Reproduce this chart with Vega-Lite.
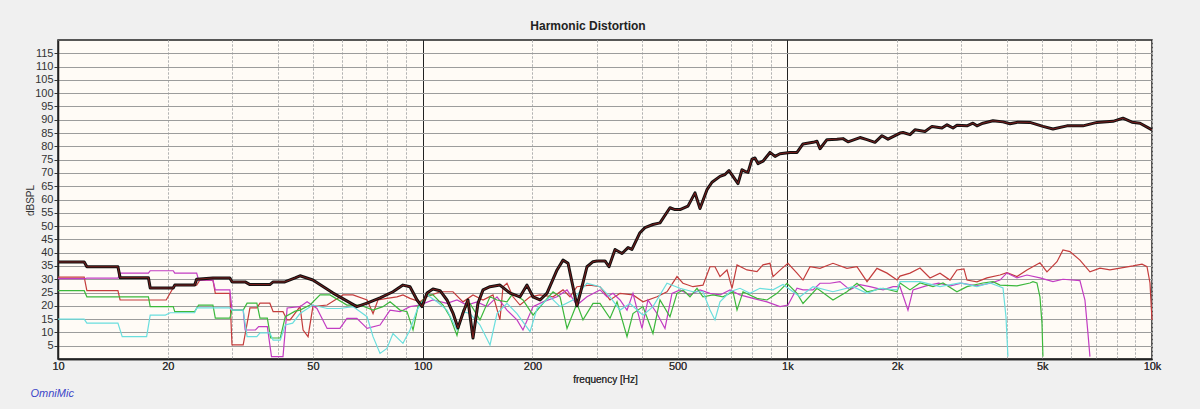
{
  "$schema": "https://vega.github.io/schema/vega-lite/v6.json",
  "description": "Harmonic distortion measurement (OmniMic)",
  "autosize": "none",
  "padding": {"left": 58, "top": 40, "right": 48, "bottom": 50},
  "width": 1094,
  "height": 319,
  "background": "#f0f0f0",
  "view": {"fill": "#fffbf6", "stroke": "#222222", "strokeWidth": 1.5},
  "title": {
    "text": "Harmonic Distortion",
    "font": "Liberation Sans",
    "fontSize": 12,
    "fontWeight": "bold",
    "color": "#222222",
    "anchor": "middle",
    "frame": "group",
    "dx": -17,
    "offset": 7
  },
  "config": {
    "axis": {"labelFont": "Liberation Sans", "titleFont": "Liberation Sans", "labelColor": "#333333", "titleColor": "#333333"}
  },
  "data": {
    "values": [
      {"s": "Fundamental", "f": 10, "db": 36.5}, {"s": "Fundamental", "f": 11.8, "db": 36.5}, {"s": "Fundamental", "f": 12.0, "db": 34.7}, {"s": "Fundamental", "f": 14.6, "db": 34.7},
      {"s": "Fundamental", "f": 14.8, "db": 30.6}, {"s": "Fundamental", "f": 17.7, "db": 30.6}, {"s": "Fundamental", "f": 17.9, "db": 26.7}, {"s": "Fundamental", "f": 20.7, "db": 26.7},
      {"s": "Fundamental", "f": 20.9, "db": 27.8}, {"s": "Fundamental", "f": 23.7, "db": 27.8}, {"s": "Fundamental", "f": 24.0, "db": 30}, {"s": "Fundamental", "f": 26.6, "db": 30.5},
      {"s": "Fundamental", "f": 29.6, "db": 30.5}, {"s": "Fundamental", "f": 30.0, "db": 29}, {"s": "Fundamental", "f": 32.6, "db": 29}, {"s": "Fundamental", "f": 33.6, "db": 28},
      {"s": "Fundamental", "f": 38.1, "db": 28}, {"s": "Fundamental", "f": 38.9, "db": 29}, {"s": "Fundamental", "f": 41.9, "db": 29}, {"s": "Fundamental", "f": 44.7, "db": 30.5},
      {"s": "Fundamental", "f": 46.1, "db": 31.3}, {"s": "Fundamental", "f": 50, "db": 29.7}, {"s": "Fundamental", "f": 56.8, "db": 24.8}, {"s": "Fundamental", "f": 66, "db": 19.7},
      {"s": "Fundamental", "f": 70.4, "db": 21}, {"s": "Fundamental", "f": 76.4, "db": 23}, {"s": "Fundamental", "f": 82.9, "db": 25.3}, {"s": "Fundamental", "f": 88.3, "db": 27.8},
      {"s": "Fundamental", "f": 92.3, "db": 27.2}, {"s": "Fundamental", "f": 96.5, "db": 22.2}, {"s": "Fundamental", "f": 99.6, "db": 19.7}, {"s": "Fundamental", "f": 102.8, "db": 24.8},
      {"s": "Fundamental", "f": 106.7, "db": 26.3}, {"s": "Fundamental", "f": 111.6, "db": 25.7}, {"s": "Fundamental", "f": 116.6, "db": 22.2}, {"s": "Fundamental", "f": 121.1, "db": 17.3},
      {"s": "Fundamental", "f": 125, "db": 11.7}, {"s": "Fundamental", "f": 129, "db": 17.3}, {"s": "Fundamental", "f": 133.1, "db": 22.2}, {"s": "Fundamental", "f": 137.4, "db": 7.9},
      {"s": "Fundamental", "f": 141.8, "db": 21}, {"s": "Fundamental", "f": 146.4, "db": 26}, {"s": "Fundamental", "f": 153, "db": 27.2}, {"s": "Fundamental", "f": 162.9, "db": 27.8},
      {"s": "Fundamental", "f": 173.6, "db": 24.8}, {"s": "Fundamental", "f": 184.9, "db": 23.4}, {"s": "Fundamental", "f": 193.2, "db": 27.8}, {"s": "Fundamental", "f": 200.7, "db": 23.4},
      {"s": "Fundamental", "f": 209.8, "db": 22.2}, {"s": "Fundamental", "f": 219.3, "db": 24.8}, {"s": "Fundamental", "f": 233.6, "db": 33.5}, {"s": "Fundamental", "f": 242.6, "db": 37.2},
      {"s": "Fundamental", "f": 250.4, "db": 36}, {"s": "Fundamental", "f": 258.3, "db": 27.2}, {"s": "Fundamental", "f": 264.9, "db": 20}, {"s": "Fundamental", "f": 273.5, "db": 27.2},
      {"s": "Fundamental", "f": 282.2, "db": 34.7}, {"s": "Fundamental", "f": 293.2, "db": 36.6}, {"s": "Fundamental", "f": 300.6, "db": 36.9}, {"s": "Fundamental", "f": 316.2, "db": 36.9},
      {"s": "Fundamental", "f": 324.3, "db": 34.7}, {"s": "Fundamental", "f": 336.9, "db": 41.2}, {"s": "Fundamental", "f": 352.1, "db": 39.7}, {"s": "Fundamental", "f": 365.7, "db": 41.9},
      {"s": "Fundamental", "f": 374.9, "db": 41.2}, {"s": "Fundamental", "f": 394.3, "db": 47.5}, {"s": "Fundamental", "f": 407, "db": 49.4}, {"s": "Fundamental", "f": 428.1, "db": 50.6},
      {"s": "Fundamental", "f": 447.5, "db": 51.2}, {"s": "Fundamental", "f": 476.6, "db": 56.9}, {"s": "Fundamental", "f": 491.9, "db": 56.2}, {"s": "Fundamental", "f": 507.7, "db": 56.2},
      {"s": "Fundamental", "f": 534, "db": 57.5}, {"s": "Fundamental", "f": 558.2, "db": 62.5}, {"s": "Fundamental", "f": 576.1, "db": 56.6}, {"s": "Fundamental", "f": 602.1, "db": 63.7},
      {"s": "Fundamental", "f": 621.4, "db": 66.5}, {"s": "Fundamental", "f": 653.6, "db": 68.7}, {"s": "Fundamental", "f": 674.6, "db": 69.4}, {"s": "Fundamental", "f": 691.9, "db": 70.9},
      {"s": "Fundamental", "f": 732.4, "db": 66}, {"s": "Fundamental", "f": 751.1, "db": 71.2}, {"s": "Fundamental", "f": 765.4, "db": 70.6}, {"s": "Fundamental", "f": 780.1, "db": 70.2},
      {"s": "Fundamental", "f": 800, "db": 75.2}, {"s": "Fundamental", "f": 815.2, "db": 75.6}, {"s": "Fundamental", "f": 830.8, "db": 73.5}, {"s": "Fundamental", "f": 857.5, "db": 74.4},
      {"s": "Fundamental", "f": 896.3, "db": 77.7}, {"s": "Fundamental", "f": 925.2, "db": 76.2}, {"s": "Fundamental", "f": 954.8, "db": 77.2}, {"s": "Fundamental", "f": 1017, "db": 77.7},
      {"s": "Fundamental", "f": 1063, "db": 77.7}, {"s": "Fundamental", "f": 1104, "db": 80.9}, {"s": "Fundamental", "f": 1176, "db": 81.5}, {"s": "Fundamental", "f": 1206, "db": 81.9},
      {"s": "Fundamental", "f": 1229, "db": 79.1}, {"s": "Fundamental", "f": 1284, "db": 82.5}, {"s": "Fundamental", "f": 1368, "db": 82.7}, {"s": "Fundamental", "f": 1421, "db": 82.9},
      {"s": "Fundamental", "f": 1467, "db": 81.7}, {"s": "Fundamental", "f": 1582, "db": 83.3}, {"s": "Fundamental", "f": 1654, "db": 82.5}, {"s": "Fundamental", "f": 1739, "db": 81.5},
      {"s": "Fundamental", "f": 1818, "db": 84}, {"s": "Fundamental", "f": 1888, "db": 82.7}, {"s": "Fundamental", "f": 2037, "db": 85}, {"s": "Fundamental", "f": 2076, "db": 85.2},
      {"s": "Fundamental", "f": 2170, "db": 84.4}, {"s": "Fundamental", "f": 2239, "db": 86.2}, {"s": "Fundamental", "f": 2385, "db": 85.6}, {"s": "Fundamental", "f": 2493, "db": 87.5},
      {"s": "Fundamental", "f": 2655, "db": 86.9}, {"s": "Fundamental", "f": 2741, "db": 88.1}, {"s": "Fundamental", "f": 2847, "db": 86.9}, {"s": "Fundamental", "f": 2918, "db": 87.9},
      {"s": "Fundamental", "f": 3109, "db": 87.7}, {"s": "Fundamental", "f": 3228, "db": 88.7}, {"s": "Fundamental", "f": 3311, "db": 87.7}, {"s": "Fundamental", "f": 3439, "db": 88.7},
      {"s": "Fundamental", "f": 3664, "db": 89.6}, {"s": "Fundamental", "f": 3903, "db": 89.2}, {"s": "Fundamental", "f": 4079, "db": 88.5}, {"s": "Fundamental", "f": 4290, "db": 89.1},
      {"s": "Fundamental", "f": 4627, "db": 89}, {"s": "Fundamental", "f": 5023, "db": 87.5}, {"s": "Fundamental", "f": 5351, "db": 86.5}, {"s": "Fundamental", "f": 5846, "db": 87.7},
      {"s": "Fundamental", "f": 6465, "db": 87.7}, {"s": "Fundamental", "f": 7065, "db": 89}, {"s": "Fundamental", "f": 7816, "db": 89.4}, {"s": "Fundamental", "f": 8325, "db": 90.6},
      {"s": "Fundamental", "f": 8812, "db": 89.1}, {"s": "Fundamental", "f": 9271, "db": 88.7}, {"s": "Fundamental", "f": 10000, "db": 86.2},

      {"s": "2nd", "f": 10, "db": 30.8}, {"s": "2nd", "f": 11.8, "db": 30.8}, {"s": "2nd", "f": 12.0, "db": 25.7}, {"s": "2nd", "f": 14.6, "db": 25.7},
      {"s": "2nd", "f": 14.8, "db": 22.2}, {"s": "2nd", "f": 19.8, "db": 22.2}, {"s": "2nd", "f": 20.9, "db": 27.8}, {"s": "2nd", "f": 24, "db": 27.8},
      {"s": "2nd", "f": 24.5, "db": 29.7}, {"s": "2nd", "f": 26.6, "db": 29.7}, {"s": "2nd", "f": 27, "db": 24.7}, {"s": "2nd", "f": 29.6, "db": 24.7},
      {"s": "2nd", "f": 30, "db": 5.3}, {"s": "2nd", "f": 32.2, "db": 5.3}, {"s": "2nd", "f": 33.6, "db": 19.2}, {"s": "2nd", "f": 35.1, "db": 19.2},
      {"s": "2nd", "f": 35.8, "db": 21}, {"s": "2nd", "f": 38.1, "db": 21}, {"s": "2nd", "f": 38.9, "db": 17.8}, {"s": "2nd", "f": 41.4, "db": 17.8},
      {"s": "2nd", "f": 42.5, "db": 14.7}, {"s": "2nd", "f": 43.3, "db": 14.7}, {"s": "2nd", "f": 46.1, "db": 19.7}, {"s": "2nd", "f": 47, "db": 10.9},
      {"s": "2nd", "f": 48.5, "db": 8.4}, {"s": "2nd", "f": 50, "db": 19.7}, {"s": "2nd", "f": 54.7, "db": 20.3}, {"s": "2nd", "f": 60.5, "db": 24.1},
      {"s": "2nd", "f": 64.4, "db": 24.1}, {"s": "2nd", "f": 70.4, "db": 22.2}, {"s": "2nd", "f": 73.1, "db": 17.1}, {"s": "2nd", "f": 75.4, "db": 22.2},
      {"s": "2nd", "f": 79.8, "db": 22.8}, {"s": "2nd", "f": 85, "db": 23.4}, {"s": "2nd", "f": 88.3, "db": 24.1}, {"s": "2nd", "f": 92.3, "db": 22.8},
      {"s": "2nd", "f": 98.3, "db": 21.5}, {"s": "2nd", "f": 102.8, "db": 23.4}, {"s": "2nd", "f": 111.6, "db": 25.3}, {"s": "2nd", "f": 121.1, "db": 25.3},
      {"s": "2nd", "f": 129, "db": 21.5}, {"s": "2nd", "f": 137.4, "db": 24.1}, {"s": "2nd", "f": 146.4, "db": 22.2}, {"s": "2nd", "f": 155.9, "db": 24.1},
      {"s": "2nd", "f": 162.9, "db": 14.7}, {"s": "2nd", "f": 166.1, "db": 27.2}, {"s": "2nd", "f": 170.3, "db": 28.5}, {"s": "2nd", "f": 176.9, "db": 23.4},
      {"s": "2nd", "f": 184.9, "db": 20.3}, {"s": "2nd", "f": 197, "db": 23.4}, {"s": "2nd", "f": 209.8, "db": 24.1}, {"s": "2nd", "f": 227.8, "db": 23.4},
      {"s": "2nd", "f": 242.6, "db": 26}, {"s": "2nd", "f": 253.5, "db": 23.4}, {"s": "2nd", "f": 264.9, "db": 27.2}, {"s": "2nd", "f": 287.6, "db": 27.8},
      {"s": "2nd", "f": 306.4, "db": 27.2}, {"s": "2nd", "f": 326.4, "db": 22.2}, {"s": "2nd", "f": 347.7, "db": 24.7}, {"s": "2nd", "f": 377.3, "db": 24.1},
      {"s": "2nd", "f": 401.9, "db": 21.5}, {"s": "2nd", "f": 439.1, "db": 23.4}, {"s": "2nd", "f": 467.7, "db": 25.3}, {"s": "2nd", "f": 498.2, "db": 31},
      {"s": "2nd", "f": 517.4, "db": 28.5}, {"s": "2nd", "f": 551.1, "db": 27.2}, {"s": "2nd", "f": 587.1, "db": 27.8}, {"s": "2nd", "f": 613.6, "db": 34.7},
      {"s": "2nd", "f": 633.3, "db": 34.7}, {"s": "2nd", "f": 653.6, "db": 31}, {"s": "2nd", "f": 683.2, "db": 33.5}, {"s": "2nd", "f": 705.2, "db": 26.6},
      {"s": "2nd", "f": 727.8, "db": 35.4}, {"s": "2nd", "f": 775.2, "db": 33.5}, {"s": "2nd", "f": 825.6, "db": 32.9}, {"s": "2nd", "f": 857.5, "db": 35.4},
      {"s": "2nd", "f": 896.3, "db": 36}, {"s": "2nd", "f": 913.5, "db": 31}, {"s": "2nd", "f": 966.9, "db": 34.1}, {"s": "2nd", "f": 1004, "db": 36},
      {"s": "2nd", "f": 1063, "db": 32.3}, {"s": "2nd", "f": 1104, "db": 29.7}, {"s": "2nd", "f": 1154, "db": 34.7}, {"s": "2nd", "f": 1229, "db": 34.1},
      {"s": "2nd", "f": 1334, "db": 36}, {"s": "2nd", "f": 1457, "db": 34.1}, {"s": "2nd", "f": 1552, "db": 34.7}, {"s": "2nd", "f": 1654, "db": 29.1},
      {"s": "2nd", "f": 1761, "db": 34.1}, {"s": "2nd", "f": 1877, "db": 32.3}, {"s": "2nd", "f": 1999, "db": 29.7}, {"s": "2nd", "f": 2037, "db": 31.2},
      {"s": "2nd", "f": 2170, "db": 32.3}, {"s": "2nd", "f": 2311, "db": 34.2}, {"s": "2nd", "f": 2462, "db": 30.5}, {"s": "2nd", "f": 2622, "db": 32.3},
      {"s": "2nd", "f": 2793, "db": 29.7}, {"s": "2nd", "f": 2918, "db": 33.5}, {"s": "2nd", "f": 3050, "db": 33.9}, {"s": "2nd", "f": 3109, "db": 29.7},
      {"s": "2nd", "f": 3311, "db": 29}, {"s": "2nd", "f": 3527, "db": 30.5}, {"s": "2nd", "f": 3830, "db": 31.6}, {"s": "2nd", "f": 4002, "db": 32.5},
      {"s": "2nd", "f": 4263, "db": 31}, {"s": "2nd", "f": 4540, "db": 33.5}, {"s": "2nd", "f": 4929, "db": 36.2}, {"s": "2nd", "f": 5152, "db": 32.8},
      {"s": "2nd", "f": 5488, "db": 36.6}, {"s": "2nd", "f": 5700, "db": 41}, {"s": "2nd", "f": 5957, "db": 40.4}, {"s": "2nd", "f": 6344, "db": 37.2},
      {"s": "2nd", "f": 6758, "db": 32.8}, {"s": "2nd", "f": 7200, "db": 34.2}, {"s": "2nd", "f": 7667, "db": 33.5}, {"s": "2nd", "f": 8169, "db": 34.2},
      {"s": "2nd", "f": 8869, "db": 35}, {"s": "2nd", "f": 9389, "db": 35.7}, {"s": "2nd", "f": 9690, "db": 34.7}, {"s": "2nd", "f": 9874, "db": 28.6},
      {"s": "2nd", "f": 10000, "db": 14.7},

      {"s": "3rd", "f": 10, "db": 30.2}, {"s": "3rd", "f": 11.8, "db": 30.2}, {"s": "3rd", "f": 12, "db": 30.4}, {"s": "3rd", "f": 14.6, "db": 30.4},
      {"s": "3rd", "f": 14.8, "db": 32.3}, {"s": "3rd", "f": 17.7, "db": 32.3}, {"s": "3rd", "f": 17.9, "db": 33.2}, {"s": "3rd", "f": 20.7, "db": 33.2},
      {"s": "3rd", "f": 20.9, "db": 32.3}, {"s": "3rd", "f": 24, "db": 32.3}, {"s": "3rd", "f": 24.3, "db": 29.7}, {"s": "3rd", "f": 26.6, "db": 29.7},
      {"s": "3rd", "f": 27, "db": 26}, {"s": "3rd", "f": 29.6, "db": 26}, {"s": "3rd", "f": 30, "db": 18.4}, {"s": "3rd", "f": 32.2, "db": 18.4},
      {"s": "3rd", "f": 32.6, "db": 10.9}, {"s": "3rd", "f": 34.8, "db": 10.9}, {"s": "3rd", "f": 35.5, "db": 12.2}, {"s": "3rd", "f": 37.5, "db": 12.2},
      {"s": "3rd", "f": 38.5, "db": 0.9}, {"s": "3rd", "f": 41.4, "db": 0.9}, {"s": "3rd", "f": 42.5, "db": 19.2}, {"s": "3rd", "f": 46.1, "db": 19.7},
      {"s": "3rd", "f": 48.2, "db": 21.5}, {"s": "3rd", "f": 51.3, "db": 19}, {"s": "3rd", "f": 54.7, "db": 11.5}, {"s": "3rd", "f": 59.3, "db": 11.5},
      {"s": "3rd", "f": 62, "db": 15.3}, {"s": "3rd", "f": 66, "db": 15.3}, {"s": "3rd", "f": 70.4, "db": 11.5}, {"s": "3rd", "f": 76.4, "db": 12.8},
      {"s": "3rd", "f": 81.4, "db": 18.4}, {"s": "3rd", "f": 86.7, "db": 17.8}, {"s": "3rd", "f": 92.3, "db": 19.7}, {"s": "3rd", "f": 98.3, "db": 20.3},
      {"s": "3rd", "f": 106.7, "db": 22.2}, {"s": "3rd", "f": 116.6, "db": 20.9}, {"s": "3rd", "f": 124.2, "db": 22.2}, {"s": "3rd", "f": 132.3, "db": 20.3},
      {"s": "3rd", "f": 140.9, "db": 21.5}, {"s": "3rd", "f": 150.1, "db": 19.7}, {"s": "3rd", "f": 159.9, "db": 23.4}, {"s": "3rd", "f": 170.3, "db": 18.4},
      {"s": "3rd", "f": 181.4, "db": 14.7}, {"s": "3rd", "f": 188.4, "db": 10.9}, {"s": "3rd", "f": 200.7, "db": 19.7}, {"s": "3rd", "f": 213.8, "db": 21.5},
      {"s": "3rd", "f": 233.6, "db": 23.4}, {"s": "3rd", "f": 248.8, "db": 26}, {"s": "3rd", "f": 264.9, "db": 20.3}, {"s": "3rd", "f": 282.2, "db": 23.4},
      {"s": "3rd", "f": 306.4, "db": 26}, {"s": "3rd", "f": 320.2, "db": 23.4}, {"s": "3rd", "f": 332.6, "db": 24.7}, {"s": "3rd", "f": 347.7, "db": 22.2},
      {"s": "3rd", "f": 363.4, "db": 18.4}, {"s": "3rd", "f": 377.3, "db": 24.7}, {"s": "3rd", "f": 399.4, "db": 11.5}, {"s": "3rd", "f": 414.8, "db": 22.2},
      {"s": "3rd", "f": 439.1, "db": 17.1}, {"s": "3rd", "f": 461.8, "db": 11.5}, {"s": "3rd", "f": 482.7, "db": 24.7}, {"s": "3rd", "f": 507.7, "db": 26},
      {"s": "3rd", "f": 540.8, "db": 24.1}, {"s": "3rd", "f": 576.1, "db": 26}, {"s": "3rd", "f": 613.6, "db": 24.7}, {"s": "3rd", "f": 653.6, "db": 24.1},
      {"s": "3rd", "f": 696.3, "db": 26}, {"s": "3rd", "f": 741.7, "db": 24.1}, {"s": "3rd", "f": 805, "db": 22.8}, {"s": "3rd", "f": 879.5, "db": 21.5},
      {"s": "3rd", "f": 954.8, "db": 19.7}, {"s": "3rd", "f": 1004, "db": 20.3}, {"s": "3rd", "f": 1063, "db": 26.6}, {"s": "3rd", "f": 1104, "db": 26},
      {"s": "3rd", "f": 1176, "db": 26}, {"s": "3rd", "f": 1229, "db": 28.5}, {"s": "3rd", "f": 1309, "db": 28.5}, {"s": "3rd", "f": 1394, "db": 29.1},
      {"s": "3rd", "f": 1485, "db": 26}, {"s": "3rd", "f": 1582, "db": 28}, {"s": "3rd", "f": 1685, "db": 27.2}, {"s": "3rd", "f": 1830, "db": 26},
      {"s": "3rd", "f": 1949, "db": 27.2}, {"s": "3rd", "f": 2037, "db": 27.2}, {"s": "3rd", "f": 2142, "db": 18.4}, {"s": "3rd", "f": 2211, "db": 26},
      {"s": "3rd", "f": 2400, "db": 27.5}, {"s": "3rd", "f": 2600, "db": 28.5}, {"s": "3rd", "f": 2800, "db": 27.5}, {"s": "3rd", "f": 3000, "db": 28.5},
      {"s": "3rd", "f": 3300, "db": 27.5}, {"s": "3rd", "f": 3600, "db": 28.5}, {"s": "3rd", "f": 3830, "db": 29.7}, {"s": "3rd", "f": 4002, "db": 32.4},
      {"s": "3rd", "f": 4263, "db": 30.5}, {"s": "3rd", "f": 4540, "db": 31.6}, {"s": "3rd", "f": 4929, "db": 30.5}, {"s": "3rd", "f": 5351, "db": 29.1},
      {"s": "3rd", "f": 5700, "db": 30}, {"s": "3rd", "f": 6344, "db": 29.5}, {"s": "3rd", "f": 6548, "db": 22.2}, {"s": "3rd", "f": 6673, "db": 9.8},
      {"s": "3rd", "f": 6758, "db": 0.9},

      {"s": "4th", "f": 10, "db": 25.7}, {"s": "4th", "f": 11.8, "db": 25.7}, {"s": "4th", "f": 12, "db": 23.4}, {"s": "4th", "f": 17.7, "db": 23.4},
      {"s": "4th", "f": 17.9, "db": 19.7}, {"s": "4th", "f": 20.7, "db": 19.7}, {"s": "4th", "f": 20.9, "db": 17.8}, {"s": "4th", "f": 23.7, "db": 17.8},
      {"s": "4th", "f": 24.3, "db": 20.3}, {"s": "4th", "f": 26.6, "db": 20.3}, {"s": "4th", "f": 27, "db": 15.4}, {"s": "4th", "f": 29.6, "db": 15.4},
      {"s": "4th", "f": 30, "db": 18.4}, {"s": "4th", "f": 32.2, "db": 18.4}, {"s": "4th", "f": 33, "db": 21}, {"s": "4th", "f": 35.1, "db": 21},
      {"s": "4th", "f": 35.8, "db": 15.4}, {"s": "4th", "f": 37.5, "db": 15.4}, {"s": "4th", "f": 38.3, "db": 7.9}, {"s": "4th", "f": 40.7, "db": 7.9},
      {"s": "4th", "f": 42, "db": 15.9}, {"s": "4th", "f": 44.7, "db": 18}, {"s": "4th", "f": 46.1, "db": 18.4}, {"s": "4th", "f": 49.1, "db": 20.3},
      {"s": "4th", "f": 52.3, "db": 24.1}, {"s": "4th", "f": 55.7, "db": 24.1}, {"s": "4th", "f": 62, "db": 20.3}, {"s": "4th", "f": 67.3, "db": 20.3},
      {"s": "4th", "f": 73.1, "db": 18.4}, {"s": "4th", "f": 77.8, "db": 19.7}, {"s": "4th", "f": 81.4, "db": 21.5}, {"s": "4th", "f": 86.7, "db": 18.4},
      {"s": "4th", "f": 90.6, "db": 17.8}, {"s": "4th", "f": 94.1, "db": 10.9}, {"s": "4th", "f": 97.1, "db": 19.7}, {"s": "4th", "f": 102.8, "db": 24.1},
      {"s": "4th", "f": 106.7, "db": 24.1}, {"s": "4th", "f": 113.7, "db": 20.3}, {"s": "4th", "f": 118.8, "db": 15.9}, {"s": "4th", "f": 124.2, "db": 8.9},
      {"s": "4th", "f": 129, "db": 18.4}, {"s": "4th", "f": 134.8, "db": 20.9}, {"s": "4th", "f": 143.6, "db": 14.7}, {"s": "4th", "f": 153, "db": 23.4},
      {"s": "4th", "f": 159.9, "db": 22.2}, {"s": "4th", "f": 170.3, "db": 21.5}, {"s": "4th", "f": 176.9, "db": 24.7}, {"s": "4th", "f": 188.4, "db": 22.2},
      {"s": "4th", "f": 200.7, "db": 16.5}, {"s": "4th", "f": 213.8, "db": 20.9}, {"s": "4th", "f": 227.8, "db": 25.3}, {"s": "4th", "f": 238.1, "db": 23.4},
      {"s": "4th", "f": 248.8, "db": 11.5}, {"s": "4th", "f": 264.9, "db": 20.9}, {"s": "4th", "f": 275.2, "db": 14.7}, {"s": "4th", "f": 293.2, "db": 20.9},
      {"s": "4th", "f": 306.4, "db": 20.9}, {"s": "4th", "f": 326.4, "db": 15.3}, {"s": "4th", "f": 341.2, "db": 21.5}, {"s": "4th", "f": 363.4, "db": 8.4},
      {"s": "4th", "f": 377.3, "db": 17.1}, {"s": "4th", "f": 401.9, "db": 19.7}, {"s": "4th", "f": 428.1, "db": 9.6}, {"s": "4th", "f": 447.5, "db": 22.2},
      {"s": "4th", "f": 476.6, "db": 15.9}, {"s": "4th", "f": 498.2, "db": 24.7}, {"s": "4th", "f": 517.4, "db": 26}, {"s": "4th", "f": 540.8, "db": 23.4},
      {"s": "4th", "f": 565.3, "db": 26.6}, {"s": "4th", "f": 587.1, "db": 23.4}, {"s": "4th", "f": 625.4, "db": 24.1}, {"s": "4th", "f": 666.1, "db": 23.4},
      {"s": "4th", "f": 709.6, "db": 25.3}, {"s": "4th", "f": 727.8, "db": 18.4}, {"s": "4th", "f": 755.8, "db": 25.3}, {"s": "4th", "f": 825.6, "db": 22.8},
      {"s": "4th", "f": 879.5, "db": 22.2}, {"s": "4th", "f": 937, "db": 24.7}, {"s": "4th", "f": 998, "db": 28.5}, {"s": "4th", "f": 1063, "db": 24.7},
      {"s": "4th", "f": 1104, "db": 20.9}, {"s": "4th", "f": 1206, "db": 26.6}, {"s": "4th", "f": 1334, "db": 22.2}, {"s": "4th", "f": 1457, "db": 25.3},
      {"s": "4th", "f": 1552, "db": 28.5}, {"s": "4th", "f": 1654, "db": 25.3}, {"s": "4th", "f": 1830, "db": 26.6}, {"s": "4th", "f": 1999, "db": 25.3},
      {"s": "4th", "f": 2037, "db": 28.6}, {"s": "4th", "f": 2170, "db": 26}, {"s": "4th", "f": 2311, "db": 28.6}, {"s": "4th", "f": 2508, "db": 27.2},
      {"s": "4th", "f": 2672, "db": 28.6}, {"s": "4th", "f": 2918, "db": 25.3}, {"s": "4th", "f": 3109, "db": 27.2}, {"s": "4th", "f": 3439, "db": 28.6},
      {"s": "4th", "f": 3664, "db": 29.1}, {"s": "4th", "f": 3830, "db": 27.8}, {"s": "4th", "f": 4263, "db": 27.5}, {"s": "4th", "f": 4627, "db": 28.6},
      {"s": "4th", "f": 4716, "db": 29.1}, {"s": "4th", "f": 4836, "db": 28.6}, {"s": "4th", "f": 4929, "db": 23.4}, {"s": "4th", "f": 4992, "db": 13.5},
      {"s": "4th", "f": 5023, "db": 0.9},

      {"s": "5th", "f": 10, "db": 15}, {"s": "5th", "f": 11.8, "db": 15}, {"s": "5th", "f": 12, "db": 13.5}, {"s": "5th", "f": 14.6, "db": 13.5},
      {"s": "5th", "f": 15, "db": 8.4}, {"s": "5th", "f": 17.5, "db": 8.4}, {"s": "5th", "f": 17.9, "db": 16.5}, {"s": "5th", "f": 19.7, "db": 16.5},
      {"s": "5th", "f": 20.3, "db": 17.4}, {"s": "5th", "f": 23.7, "db": 17.4}, {"s": "5th", "f": 24, "db": 19.2}, {"s": "5th", "f": 29.6, "db": 19.2},
      {"s": "5th", "f": 30, "db": 18.4}, {"s": "5th", "f": 32.2, "db": 18.4}, {"s": "5th", "f": 33, "db": 8.4}, {"s": "5th", "f": 35.1, "db": 8.4},
      {"s": "5th", "f": 35.8, "db": 9.8}, {"s": "5th", "f": 38.1, "db": 9.8}, {"s": "5th", "f": 38.9, "db": 7.1}, {"s": "5th", "f": 40.7, "db": 7.1},
      {"s": "5th", "f": 42, "db": 12.8}, {"s": "5th", "f": 44, "db": 13.5}, {"s": "5th", "f": 46.1, "db": 17.1}, {"s": "5th", "f": 50, "db": 20.3},
      {"s": "5th", "f": 54.7, "db": 19}, {"s": "5th", "f": 59.3, "db": 19}, {"s": "5th", "f": 64.4, "db": 19.7}, {"s": "5th", "f": 70.4, "db": 15.9},
      {"s": "5th", "f": 73.1, "db": 8.4}, {"s": "5th", "f": 76.4, "db": 2.1}, {"s": "5th", "f": 79.8, "db": 4}, {"s": "5th", "f": 82.9, "db": 9.6},
      {"s": "5th", "f": 88.3, "db": 5.9}, {"s": "5th", "f": 92.3, "db": 10.9}, {"s": "5th", "f": 96.5, "db": 18.4}, {"s": "5th", "f": 102.8, "db": 24.1},
      {"s": "5th", "f": 109.5, "db": 21.5}, {"s": "5th", "f": 116.6, "db": 18.4}, {"s": "5th", "f": 124.2, "db": 10.9}, {"s": "5th", "f": 129, "db": 17.8},
      {"s": "5th", "f": 134.8, "db": 17.1}, {"s": "5th", "f": 143.6, "db": 12.8}, {"s": "5th", "f": 153, "db": 5.3}, {"s": "5th", "f": 159.9, "db": 17.1},
      {"s": "5th", "f": 170.3, "db": 20.9}, {"s": "5th", "f": 181.4, "db": 17.1}, {"s": "5th", "f": 197, "db": 10.3}, {"s": "5th", "f": 205.9, "db": 19},
      {"s": "5th", "f": 223.5, "db": 23.4}, {"s": "5th", "f": 238.1, "db": 19.7}, {"s": "5th", "f": 258.3, "db": 22.2}, {"s": "5th", "f": 282.2, "db": 28.5},
      {"s": "5th", "f": 306.4, "db": 27.2}, {"s": "5th", "f": 326.4, "db": 23.4}, {"s": "5th", "f": 347.7, "db": 18.4}, {"s": "5th", "f": 370.3, "db": 20.9},
      {"s": "5th", "f": 401.9, "db": 16.5}, {"s": "5th", "f": 428.1, "db": 19.7}, {"s": "5th", "f": 467.7, "db": 28.5}, {"s": "5th", "f": 507.7, "db": 26.6},
      {"s": "5th", "f": 551.1, "db": 25.3}, {"s": "5th", "f": 587.1, "db": 25.3}, {"s": "5th", "f": 613.6, "db": 18.4}, {"s": "5th", "f": 633.3, "db": 14.7},
      {"s": "5th", "f": 653.6, "db": 21.5}, {"s": "5th", "f": 696.3, "db": 25.3}, {"s": "5th", "f": 741.7, "db": 26.6}, {"s": "5th", "f": 789.9, "db": 24.7},
      {"s": "5th", "f": 841.4, "db": 26.6}, {"s": "5th", "f": 913.5, "db": 26}, {"s": "5th", "f": 973, "db": 28}, {"s": "5th", "f": 1083, "db": 23.4},
      {"s": "5th", "f": 1176, "db": 27.2}, {"s": "5th", "f": 1334, "db": 25.3}, {"s": "5th", "f": 1514, "db": 27.2}, {"s": "5th", "f": 1654, "db": 24.7},
      {"s": "5th", "f": 1795, "db": 26.6}, {"s": "5th", "f": 1999, "db": 26}, {"s": "5th", "f": 2037, "db": 29.1}, {"s": "5th", "f": 2311, "db": 29.1},
      {"s": "5th", "f": 2622, "db": 27.2}, {"s": "5th", "f": 2974, "db": 28.6}, {"s": "5th", "f": 3311, "db": 27.2}, {"s": "5th", "f": 3595, "db": 28.6},
      {"s": "5th", "f": 3830, "db": 27.2}, {"s": "5th", "f": 3903, "db": 26.7}, {"s": "5th", "f": 3977, "db": 15.9}, {"s": "5th", "f": 4027, "db": 0.9}
    ]
  },
  "encoding": {
    "x": {
      "field": "f",
      "type": "quantitative",
      "scale": {"type": "log", "domain": [10, 10000], "nice": false},
      "axis": {
        "orient": "bottom",
        "title": "frequency [Hz]",
        "titleFontSize": 10,
        "titleFontWeight": "normal",
        "titlePadding": 3,
        "labelFontSize": 11,
        "labelPadding": 1,
        "labelFlush": false,
        "labelOverlap": false,
        "ticks": false,
        "domainColor": "#222222",
        "domainWidth": 1.5,
        "values": [10, 20, 30, 40, 50, 60, 70, 80, 90, 100, 200, 300, 400, 500, 600, 700, 800, 900, 1000, 2000, 3000, 4000, 5000, 6000, 7000, 8000, 9000, 10000],
        "labelExpr": "indexof([10, 20, 50, 100, 200, 500, 1000, 2000, 5000, 10000], datum.value) < 0 ? '' : (datum.value >= 1000 ? (datum.value / 1000) + 'k' : '' + datum.value)",
        "grid": true,
        "gridColor": {"condition": {"test": "datum.value == 100 || datum.value == 1000", "value": "#222222"}, "value": "#b4b4b4"},
        "gridDash": {"condition": {"test": "datum.value == 100 || datum.value == 1000", "value": []}, "value": [2, 2]},
        "gridWidth": 1
      }
    },
    "y": {
      "field": "db",
      "type": "quantitative",
      "scale": {"domain": [0, 120], "nice": false},
      "axis": {
        "title": "dBSPL",
        "titleFontSize": 10,
        "titleFontWeight": "normal",
        "titleX": -28,
        "titleY": 160,
        "titleBaseline": "middle",
        "labelFontSize": 11,
        "labelPadding": 1,
        "values": [5, 10, 15, 20, 25, 30, 35, 40, 45, 50, 55, 60, 65, 70, 75, 80, 85, 90, 95, 100, 105, 110, 115],
        "tickSize": 4,
        "tickColor": "#333333",
        "domainColor": "#222222",
        "domainWidth": 1.5,
        "grid": true,
        "gridColor": "#9c9c9c",
        "gridWidth": 1.2
      }
    }
  },
  "layer": [
    {
      "transform": [{"filter": "datum.s != 'Fundamental'"}],
      "mark": {"type": "line", "strokeWidth": 1.2},
      "encoding": {
        "color": {
          "field": "s",
          "type": "nominal",
          "scale": {"domain": ["2nd", "3rd", "4th", "5th"], "range": ["#c43c3c", "#c23cc2", "#3cb83c", "#6adede"]},
          "legend": null
        },
        "detail": {"field": "s"}
      }
    },
    {
      "transform": [{"filter": "datum.s == 'Fundamental'"}],
      "mark": {"type": "line", "strokeWidth": 3, "color": "#111111", "strokeJoin": "round"}
    },
    {
      "transform": [{"filter": "datum.s == 'Fundamental'"}],
      "mark": {"type": "line", "strokeWidth": 1, "color": "#7a1c1c"},
      "encoding": {
        "x": {
          "field": "f",
          "type": "quantitative",
          "axis": {
            "orient": "bottom",
            "offset": 28,
            "title": "OmniMic",
            "titleFont": "Liberation Sans",
            "titleFontSize": 11,
            "titleFontStyle": "italic",
            "titleFontWeight": "normal",
            "titleColor": "#3c46c8",
            "titleAnchor": "start",
            "titleAlign": "left",
            "titleX": -28,
            "titlePadding": 0,
            "labels": false,
            "ticks": false,
            "domain": false,
            "grid": false
          }
        }
      }
    }
  ],
  "resolve": {"axis": {"x": "independent"}}
}
